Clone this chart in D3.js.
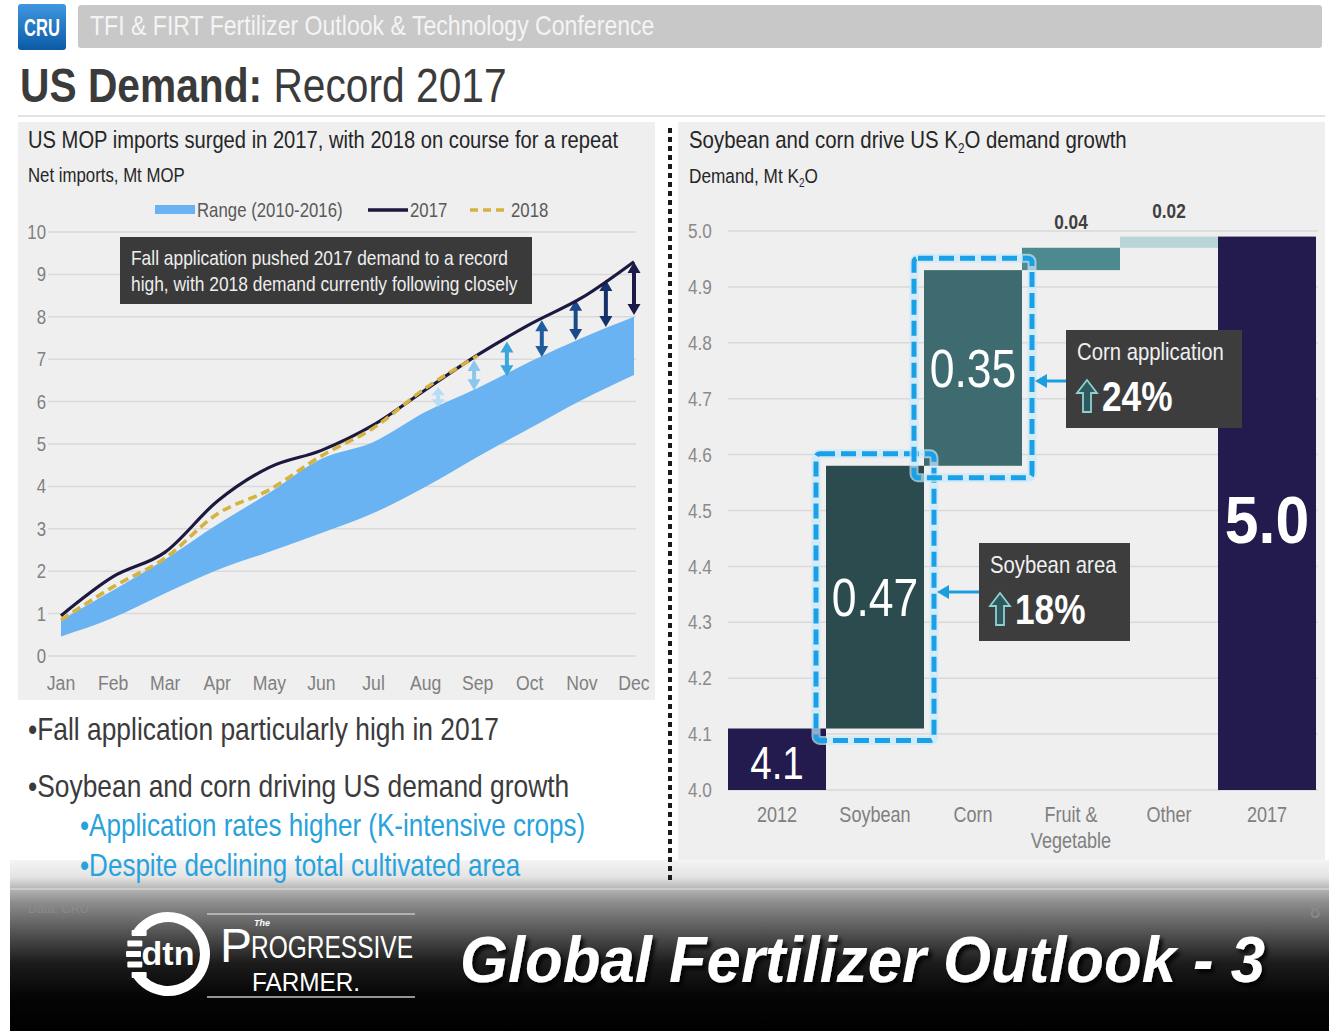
<!DOCTYPE html>
<html><head><meta charset="utf-8">
<script src="https://cdnjs.cloudflare.com/ajax/libs/d3/7.8.5/d3.min.js"></script>
<style>
body{margin:0;background:#fff;}
svg{display:block;}
text{font-family:"Liberation Sans",Arial,sans-serif;}
</style></head><body>
<svg id="c" width="1329" height="1031"></svg>
<script>
// ---------- DATA ----------
const months = ["Jan","Feb","Mar","Apr","May","Jun","Jul","Aug","Sep","Oct","Nov","Dec"];
const rangeLow  = [0.46,0.90,1.48,2.03,2.46,2.90,3.37,3.99,4.70,5.37,6.04,6.63];
const rangeHigh = [0.85,1.55,2.28,3.10,3.85,4.65,5.05,5.76,6.32,6.94,7.50,8.00];
const series2017 = [0.95,1.87,2.45,3.65,4.45,4.85,5.45,6.28,7.10,7.82,8.45,9.30];
const series2018 = [0.85,1.63,2.31,3.35,3.92,4.72,5.38,6.32,7.08];
const leftTicks = [0,1,2,3,4,5,6,7,8,9,10];
const arrowMonths = [7.24,7.93,8.56,9.23,9.88,10.46,11];
const arrowTop    = [6.34,6.98,7.42,7.92,8.40,8.87,9.29];
const arrowBottom = [5.87,6.27,6.60,7.05,7.45,7.76,8.04];
const arrowColors = ["#b9dcf5","#8cc6ee","#3aa6dc","#1f5c9e","#1b4a8a","#15306a","#1b1a48"];

const wfCategories = ["2012","Soybean","Corn","Fruit & Vegetable","Other","2017"];
const wfValues = [4.11,0.47,0.35,0.04,0.02,4.99];
const wfLabels = ["4.1","0.47","0.35","0.04","0.02","5.0"];
const wfColors = ["#231b4d","#2b4b4e","#3d6b70","#4c8a90","#b8d5d7","#231b4d"];
const rightTicks = [4.0,4.1,4.2,4.3,4.4,4.5,4.6,4.7,4.8,4.9,5.0];

// ---------- SETUP ----------
const SX = 0.84; // horizontal condensing (narrow face look)
const svg = d3.select("#c");
function T(parent, x, y, str, o={}) {
  const t = parent.append("text")
    .attr("transform",`translate(${x},${y}) scale(${o.sx||SX},1)`)
    .attr("font-size",o.size||18).attr("fill",o.fill||"#262626");
  if(o.anchor) t.attr("text-anchor",o.anchor);
  if(o.weight) t.attr("font-weight",o.weight);
  if(o.dy) t.attr("dy",o.dy);
  if(o.family) t.attr("font-family",o.family);
  if(str!=null) t.text(str);
  return t;
}
const defs = svg.append("defs");
const cg = defs.append("linearGradient").attr("id","cruGrad").attr("x1",0).attr("y1",0).attr("x2",0).attr("y2",1);
cg.append("stop").attr("offset",0).attr("stop-color","#3f97e0");
cg.append("stop").attr("offset",1).attr("stop-color","#0c5aa6");
const bg = defs.append("linearGradient").attr("id","banGrad").attr("x1",0).attr("y1",0).attr("x2",0).attr("y2",1);
[[0,"#f4f4f4"],[0.1,"#e4e4e4"],[0.17,"#b4b4b4"],[0.25,"#8c8c8c"],[0.42,"#555"],[0.6,"#1c1c1c"],[0.8,"#050505"],[1,"#000"]]
  .forEach(s=>bg.append("stop").attr("offset",s[0]).attr("stop-color",s[1]));
const glow = defs.append("filter").attr("id","shadow").attr("x","-10%").attr("y","-20%").attr("width","120%").attr("height","150%");
glow.append("feDropShadow").attr("dx",3).attr("dy",4).attr("stdDeviation",2).attr("flood-color","#000").attr("flood-opacity",0.9);

// ---------- HEADER ----------
svg.append("rect").attr("x",18).attr("y",4).attr("width",48).attr("height",46).attr("rx",3).attr("fill","url(#cruGrad)");
T(svg,42,36,"CRU",{size:23,weight:"bold",fill:"#fff",anchor:"middle",sx:0.72});
svg.append("rect").attr("x",78).attr("y",5).attr("width",1244).attr("height",43).attr("rx",3).attr("fill","#c8c8c8");
T(svg,90,35,"TFI & FIRT Fertilizer Outlook & Technology Conference",{size:27.5,fill:"#f4f4f4"});
const tt = T(svg,20,102,null,{size:48.5,fill:"#3b3b3b"});
tt.append("tspan").attr("font-weight","bold").text("US Demand:");
tt.append("tspan").text(" Record 2017");
svg.append("line").attr("x1",18).attr("x2",1325).attr("y1",116).attr("y2",116).attr("stroke","#e3e3e3").attr("stroke-width",2);

// ---------- PANELS ----------
svg.append("rect").attr("x",18).attr("y",122).attr("width",637).attr("height",578).attr("fill","#efefef");
svg.append("rect").attr("x",678).attr("y",122).attr("width",647).attr("height",758).attr("fill","#efefef");
svg.append("rect").attr("x",10).attr("y",860).attr("width",1319).attr("height",171).attr("fill","url(#banGrad)");
svg.append("line").attr("x1",10).attr("x2",1329).attr("y1",889).attr("y2",889).attr("stroke","#d4d4d4").attr("stroke-width",1.5);
svg.append("line").attr("x1",670).attr("x2",670).attr("y1",128).attr("y2",880)
  .attr("stroke","#1a1a1a").attr("stroke-width",4).attr("stroke-dasharray","5,4");

// ---------- LEFT CHART ----------
const L = svg.append("g");
T(L,28,148,"US MOP imports surged in 2017, with 2018 on course for a repeat",{size:24});
T(L,28,182,"Net imports, Mt MOP",{size:20});

const xL = d3.scaleLinear().domain([0,11]).range([61,634]);
const yL = d3.scaleLinear().domain([0,10]).range([656,232]);

L.append("g").selectAll("line").data(leftTicks).join("line")
  .attr("x1",48).attr("x2",636).attr("y1",d=>yL(d)).attr("y2",d=>yL(d))
  .attr("stroke","#d9d9d9").attr("stroke-width",1.5);
L.append("g").selectAll("text").data(leftTicks).join("text")
  .attr("transform",d=>`translate(46,${yL(d)}) scale(${SX},1)`).attr("dy","0.35em").attr("text-anchor","end")
  .attr("font-size",20).attr("fill","#808080").text(d=>d);
L.append("g").selectAll("text").data(months).join("text")
  .attr("transform",(d,i)=>`translate(${xL(i)},690) scale(${SX},1)`).attr("text-anchor","middle")
  .attr("font-size",21).attr("fill","#808080").text(d=>d);

const area = d3.area().x((d,i)=>xL(i)).y0((d,i)=>yL(rangeLow[i])).y1(d=>yL(d)).curve(d3.curveMonotoneX);
L.append("path").datum(rangeHigh).attr("d",area).attr("fill","#69b3f2");

// arrows
const ag = L.append("g");
arrowMonths.forEach((m,i)=>{
  const x = xL(m), y1 = yL(arrowTop[i]), y2 = yL(arrowBottom[i]);
  const c = arrowColors[i], h = Math.min(11,(y2-y1)/2.5), w = 6.5;
  ag.append("line").attr("x1",x).attr("x2",x).attr("y1",y1+h-1).attr("y2",y2-h+1).attr("stroke",c).attr("stroke-width",4);
  ag.append("path").attr("d",`M${x},${y1} L${x-w},${y1+h} L${x+w},${y1+h} Z`).attr("fill",c);
  ag.append("path").attr("d",`M${x},${y2} L${x-w},${y2-h} L${x+w},${y2-h} Z`).attr("fill",c);
});

const line = d3.line().x((d,i)=>xL(i)).y(d=>yL(d)).curve(d3.curveMonotoneX);
L.append("path").datum(series2017).attr("d",line).attr("fill","none").attr("stroke","#1c1840").attr("stroke-width",3.2);
L.append("path").datum(series2018).attr("d",line).attr("fill","none").attr("stroke","#d5b340")
  .attr("stroke-width",3.6).attr("stroke-dasharray","9,5");

// legend
L.append("rect").attr("x",155).attr("y",205).attr("width",40).attr("height",9).attr("fill","#69b3f2");
T(L,197,217,"Range (2010-2016)",{size:20,fill:"#595959"});
L.append("line").attr("x1",368).attr("x2",408).attr("y1",210).attr("y2",210).attr("stroke","#1c1840").attr("stroke-width",3.5);
T(L,410,217,"2017",{size:20,fill:"#595959"});
L.append("line").attr("x1",470).attr("x2",508).attr("y1",210).attr("y2",210).attr("stroke","#d5b340").attr("stroke-width",3.5).attr("stroke-dasharray","8,5");
T(L,511,217,"2018",{size:20,fill:"#595959"});

// annotation
L.append("rect").attr("x",120).attr("y",237).attr("width",412).attr("height",67).attr("fill","#3a3a3a");
T(L,131,265,"Fall application pushed 2017 demand to a record",{size:20.7,fill:"#eeeeee"});
T(L,131,291,"high, with 2018 demand currently following closely",{size:20.7,fill:"#eeeeee"});

// bullets
const B = svg.append("g");
T(B,28,740,"•Fall application particularly high in 2017",{size:31.4,fill:"#3b3b3b"});
T(B,28,797,"•Soybean and corn driving US demand growth",{size:31.4,fill:"#3b3b3b"});
T(B,80,836,"•Application rates higher (K-intensive crops)",{size:31,fill:"#28a2dc"});
T(B,80,876,"•Despite declining total cultivated area",{size:31,fill:"#28a2dc"});

// ---------- RIGHT CHART ----------
const R = svg.append("g");
const t1 = T(R,689,148,null,{size:24.3});
t1.append("tspan").text("Soybean and corn drive US K");
t1.append("tspan").attr("font-size",14).attr("dy",5).text("2");
t1.append("tspan").attr("dy",-5).text("O demand growth");
const t2 = T(R,689,183,null,{size:20.5});
t2.append("tspan").text("Demand, Mt K");
t2.append("tspan").attr("font-size",12).attr("dy",4).text("2");
t2.append("tspan").attr("dy",-4).text("O");

const xR = d3.scaleBand().domain(wfCategories).range([728,1316]).padding(0);
const yR = d3.scaleLinear().domain([4.0,5.0]).range([790,231]);
const bw = xR.bandwidth();

R.append("g").selectAll("line").data(rightTicks).join("line")
  .attr("x1",728).attr("x2",1318).attr("y1",d=>yR(d)).attr("y2",d=>yR(d))
  .attr("stroke","#d9d9d9").attr("stroke-width",1.5);
R.append("g").selectAll("text").data(rightTicks).join("text")
  .attr("transform",d=>`translate(688,${yR(d)}) scale(${SX},1)`).attr("dy","0.35em")
  .attr("font-size",20.5).attr("fill","#8a8a8a").text(d=>d3.format(".1f")(d));

// waterfall bars
let cum = 0;
const bars = wfValues.map((v,i)=>{
  let lo, hi;
  if(i===0){lo=yR.domain()[0]; hi=v; cum=v;}
  else if(i===wfValues.length-1){lo=yR.domain()[0]; hi=v;}
  else {lo=cum; hi=cum+v; cum=hi;}
  return {cat:wfCategories[i], lo, hi, label:wfLabels[i], color:wfColors[i], i};
});
R.append("g").selectAll("rect").data(bars).join("rect")
  .attr("x",d=>xR(d.cat)).attr("width",bw)
  .attr("y",d=>yR(d.hi)).attr("height",d=>yR(d.lo)-yR(d.hi))
  .attr("fill",d=>d.color);

// dashed highlight outlines
[1,2].forEach(i=>{
  const d = bars[i];
  const x0 = xR(d.cat)-10, y0 = yR(d.hi)-12, w = bw+20, h = yR(d.lo)-yR(d.hi)+24;
  R.append("rect").attr("x",x0).attr("y",y0).attr("width",w).attr("height",h).attr("rx",4)
    .attr("fill","none").attr("stroke","#c6e9fb").attr("stroke-width",9).attr("opacity",0.7);
  R.append("rect").attr("x",x0).attr("y",y0).attr("width",w).attr("height",h).attr("rx",4)
    .attr("fill","none").attr("stroke","#1aa0e6").attr("stroke-width",5).attr("stroke-dasharray","15,6");
});

// bar labels
const bigSize = {0:46,1:53,2:53,5:66};
bars.forEach(d=>{
  const cx = xR(d.cat)+bw/2;
  if(bigSize[d.i]){
    const ty = d.i===0 ? yR(d.lo)-11 : (yR(d.hi)+yR(d.lo))/2 + (d.i===5?6:0);
    T(R,cx,ty,d.label,{size:bigSize[d.i],fill:"#fff",anchor:"middle",dy:d.i===0?null:"0.36em",
      weight:d.i===5?"bold":null, sx:d.i===5?0.92:SX});
  } else {
    T(R,cx,yR(d.hi)-19,d.label,{size:20.5,fill:"#404040",anchor:"middle",weight:"bold"});
  }
});

// x labels
R.append("g").selectAll("text").data(wfCategories).join("text")
  .attr("transform",d=>`translate(${xR(d)+bw/2},822) scale(${SX},1)`).attr("text-anchor","middle")
  .attr("font-size",21.5).attr("fill","#808080")
  .each(function(d){
    const parts = d==="Fruit & Vegetable" ? ["Fruit &","Vegetable"] : [d];
    d3.select(this).selectAll("tspan").data(parts).join("tspan")
      .attr("x",0).attr("dy",(p,j)=>j===0?0:26).text(p=>p);
  });

// annotation callouts
function callout(bx,by,bwid,bh,title,pct,targetX,arrowY){
  R.append("rect").attr("x",bx).attr("y",by).attr("width",bwid).attr("height",bh).attr("fill","#3d3d3d");
  T(R,bx+11,by+30,title,{size:24.2,fill:"#f0f0f0"});
  const ax = bx+21, ay = by+50;
  R.append("path").attr("d",`M${ax},${ay} L${ax+10},${ay+13} L${ax+4},${ay+13} L${ax+4},${ay+32} L${ax-4},${ay+32} L${ax-4},${ay+13} L${ax-10},${ay+13} Z`)
    .attr("fill","#2f5a5d").attr("stroke","#8fd0d3").attr("stroke-width",1.8);
  T(R,bx+36,by+81,pct,{size:42,weight:"bold",fill:"#fff"});
  R.append("line").attr("x1",bx).attr("x2",targetX+10).attr("y1",arrowY).attr("y2",arrowY).attr("stroke","#1a9ee0").attr("stroke-width",3);
  R.append("path").attr("d",`M${targetX},${arrowY} L${targetX+12},${arrowY-7} L${targetX+12},${arrowY+7} Z`).attr("fill","#1a9ee0");
}
callout(1066,330,176,98,"Corn application","24%",xR("Corn")+bw+13,381);
callout(979,543,151,98,"Soybean area","18%",xR("Soybean")+bw+13,592);

// ---------- FOOTER ----------
const F = svg.append("g");
T(F,28,913,"Data: CRU",{size:15,fill:"#8a8a8a"});
T(F,1310,918,"8",{size:22,fill:"#8a8a8a"});
// dtn logo
const cx=168, cy=954;
F.append("path").attr("transform",`translate(${cx},${cy})`)
  .attr("d",d3.arc().innerRadius(32).outerRadius(42).startAngle(-0.31*Math.PI).endAngle(1.31*Math.PI)())
  .attr("fill","#fff");
[-21,-10.5,0,10.5,21].forEach(dy=>{
  const xo = Math.sqrt(42*42-dy*dy);
  F.append("rect").attr("x",cx-xo).attr("y",cy+dy-3).attr("width",15).attr("height",6).attr("rx",1).attr("fill","#fff");
});
F.append("text").attr("x",cx).attr("y",965).attr("text-anchor","middle")
  .attr("font-size",34).attr("font-weight","bold").attr("fill","#fff").text("dtn");
F.append("line").attr("x1",207).attr("x2",415).attr("y1",914).attr("y2",914).attr("stroke","#c4c4c4").attr("stroke-width",1.5);
F.append("line").attr("x1",207).attr("x2",415).attr("y1",997).attr("y2",997).attr("stroke","#c4c4c4").attr("stroke-width",1.5);
F.append("text").attr("x",220).attr("y",962).attr("font-family","Liberation Serif, serif").attr("font-size",48).attr("fill","#fff").text("P");
F.append("text").attr("x",254).attr("y",926).attr("font-family","Liberation Serif, serif").attr("font-size",9).attr("font-style","italic").attr("font-weight","bold").attr("fill","#fff").text("The");
F.append("text").attr("x",251).attr("y",958).attr("font-family","Liberation Serif, serif").attr("font-size",32)
  .attr("textLength",162).attr("lengthAdjust","spacingAndGlyphs").attr("fill","#fff").text("ROGRESSIVE");
F.append("text").attr("x",252).attr("y",991).attr("font-family","Liberation Serif, serif").attr("font-size",26)
  .attr("textLength",108).attr("lengthAdjust","spacingAndGlyphs").attr("fill","#fff").text("FARMER.");
F.append("text").attr("x",460).attr("y",982).attr("font-family","Lato, 'Open Sans', sans-serif")
  .attr("font-size",64).attr("font-weight","bold").attr("font-style","italic")
  .attr("textLength",805).attr("lengthAdjust","spacingAndGlyphs")
  .attr("fill","#fff").attr("filter","url(#shadow)").text("Global Fertilizer Outlook - 3");
</script>
</body></html>
